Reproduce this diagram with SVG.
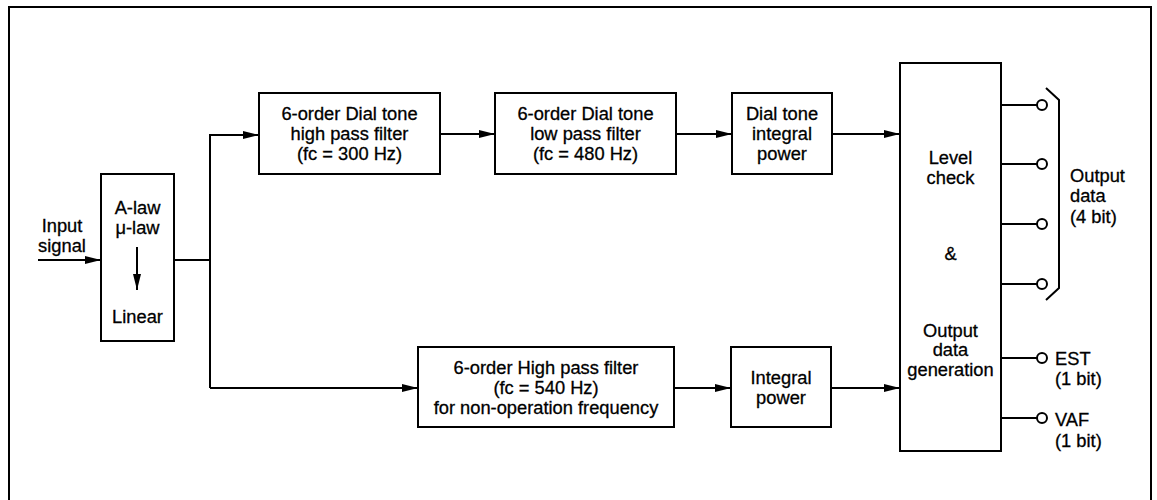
<svg xmlns="http://www.w3.org/2000/svg" width="1157" height="500" viewBox="0 0 1157 500">
<defs>
<marker id="arr" markerWidth="16" markerHeight="10" refX="16" refY="5" orient="auto" markerUnits="userSpaceOnUse">
<path d="M0,1 L16,5 L0,9 Z" fill="#000"/>
</marker>
<style>
.box{fill:#fff;stroke:#000;stroke-width:2}
.ln{fill:none;stroke:#000;stroke-width:2}
.t{font-family:"Liberation Sans",Arial,sans-serif;font-size:18.3px;fill:#000;stroke:#000;stroke-width:0.3;text-anchor:middle}
.tl{font-family:"Liberation Sans",Arial,sans-serif;font-size:18.3px;fill:#000;stroke:#000;stroke-width:0.3;text-anchor:start}
.pin{fill:#fff;stroke:#000;stroke-width:2}
</style>
</defs>
<rect width="1157" height="500" fill="#fff"/>
<path class="ln" d="M9,500 V7 H1151 V500"/>

<g id="connectors">
<line class="ln" x1="38" y1="260" x2="101" y2="260" marker-end="url(#arr)"/>
<polyline class="ln" points="174,260 210,260"/>
<polyline class="ln" points="210,388 210,135 259,135" marker-end="url(#arr)"/>
<polyline class="ln" points="210,388 418,388" marker-end="url(#arr)"/>
<line class="ln" x1="440" y1="134" x2="495" y2="134" marker-end="url(#arr)"/>
<line class="ln" x1="676" y1="134" x2="732" y2="134" marker-end="url(#arr)"/>
<line class="ln" x1="832" y1="134" x2="900" y2="134" marker-end="url(#arr)"/>
<line class="ln" x1="674" y1="388" x2="731" y2="388" marker-end="url(#arr)"/>
<line class="ln" x1="831" y1="388" x2="900" y2="388" marker-end="url(#arr)"/>
<line class="ln" x1="1001" y1="105" x2="1037" y2="105"/>
<line class="ln" x1="1001" y1="164" x2="1037" y2="164"/>
<line class="ln" x1="1001" y1="224" x2="1037" y2="224"/>
<line class="ln" x1="1001" y1="284" x2="1037" y2="284"/>
<line class="ln" x1="1001" y1="358" x2="1037" y2="358"/>
<line class="ln" x1="1001" y1="418" x2="1037" y2="418"/>
</g>

<g id="input-label">
<text class="t" x="62" y="232">Input</text>
<text class="t" x="62" y="252">signal</text>
</g>

<g id="conv">
<rect class="box" x="101" y="174" width="73" height="167"/>
<text class="t" x="137.5" y="214">A-law</text>
<text class="t" x="137.5" y="234">μ-law</text>
<line class="ln" x1="137" y1="247" x2="137" y2="290" marker-end="url(#arr)"/>
<text class="t" x="137.5" y="323">Linear</text>
</g>

<g id="hpf-dial">
<rect class="box" x="259" y="93" width="181" height="81"/>
<text class="t" x="349.5" y="119.5">6-order Dial tone</text>
<text class="t" x="349.5" y="139.5">high pass filter</text>
<text class="t" x="349.5" y="159.5">(fc = 300 Hz)</text>
</g>

<g id="lpf-dial">
<rect class="box" x="495" y="93" width="181" height="81"/>
<text class="t" x="585.5" y="119.5">6-order Dial tone</text>
<text class="t" x="585.5" y="139.5">low pass filter</text>
<text class="t" x="585.5" y="159.5">(fc = 480 Hz)</text>
</g>

<g id="dial-power">
<rect class="box" x="732" y="93" width="100" height="81"/>
<text class="t" x="782" y="119.5">Dial tone</text>
<text class="t" x="782" y="139.5">integral</text>
<text class="t" x="782" y="159.5">power</text>
</g>

<g id="hpf-nonop">
<rect class="box" x="418" y="347" width="256" height="80"/>
<text class="t" x="546" y="373.5">6-order High pass filter</text>
<text class="t" x="546" y="393.5">(fc = 540 Hz)</text>
<text class="t" x="546" y="413.5">for non-operation frequency</text>
</g>

<g id="int-power">
<rect class="box" x="731" y="347" width="100" height="80"/>
<text class="t" x="781" y="383.5">Integral</text>
<text class="t" x="781" y="403.5">power</text>
</g>

<g id="level">
<rect class="box" x="900" y="63" width="101" height="388"/>
<text class="t" x="950.5" y="163.5">Level</text>
<text class="t" x="950.5" y="183.5">check</text>
<text class="t" x="950.5" y="259.5">&amp;</text>
<text class="t" x="950.5" y="336.5">Output</text>
<text class="t" x="950.5" y="355.5">data</text>
<text class="t" x="950.5" y="375.5">generation</text>
</g>

<g id="outputs">
<circle class="pin" cx="1042" cy="105" r="5"/>
<circle class="pin" cx="1042" cy="164" r="5"/>
<circle class="pin" cx="1042" cy="224" r="5"/>
<circle class="pin" cx="1042" cy="284" r="5"/>
<circle class="pin" cx="1042" cy="358" r="5"/>
<circle class="pin" cx="1042" cy="418" r="5"/>
<polyline class="ln" points="1046,88 1059,100 1059,288 1046,300"/>
<text class="tl" x="1070" y="181.5">Output</text>
<text class="tl" x="1070" y="201.5">data</text>
<text class="tl" x="1070" y="222.5">(4 bit)</text>
<text class="tl" x="1055" y="364.5">EST</text>
<text class="tl" x="1055" y="384.5">(1 bit)</text>
<text class="tl" x="1055" y="425.5">VAF</text>
<text class="tl" x="1055" y="446.5">(1 bit)</text>
</g>
</svg>
